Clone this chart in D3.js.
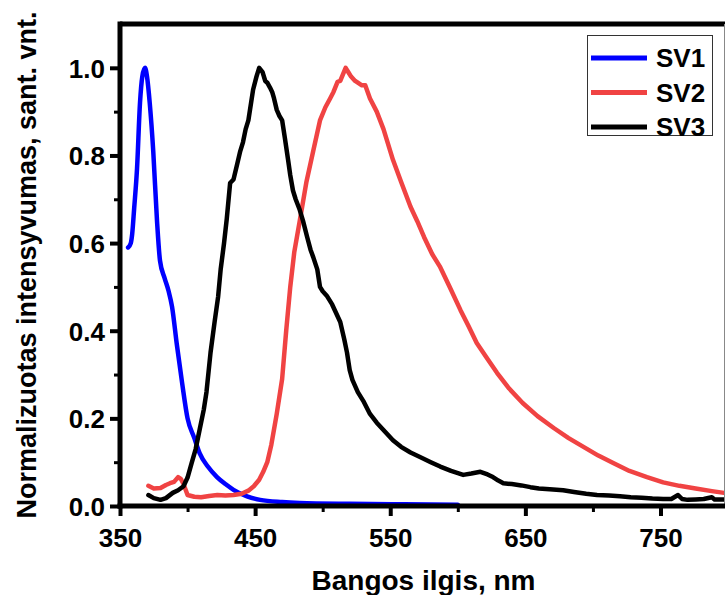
<!DOCTYPE html>
<html>
<head>
<meta charset="utf-8">
<script src="https://cdn.jsdelivr.net/npm/d3@7"></script>
<style>
  body { margin: 0; background: #fff; }
  text { font-family: "Liberation Sans", Arial, sans-serif; font-weight: bold; fill: #000; }
</style>
</head>
<body>
<script>
const w = 725;
const h = 595;

// data
const seriesNames = ["SV1", "SV2", "SV3"];
const seriesColors = ["#0000ff", "#f04343", "#000000"];

const sv1Wl = [356, 358, 359, 360.5, 362.6, 364.8, 366.5, 368.5, 370, 372, 374.6, 377.4, 379.6, 383, 386, 388.5, 392, 396, 400, 405, 409, 415, 421.8, 428, 434, 444, 453.7, 470, 483, 520, 560, 600];
const sv1I = [0.59, 0.6, 0.62, 0.68, 0.77, 0.92, 0.98, 1.0, 0.98, 0.92, 0.81, 0.65, 0.56, 0.52, 0.49, 0.455, 0.37, 0.28, 0.2, 0.155, 0.12, 0.09, 0.066, 0.05, 0.037, 0.022, 0.014, 0.009, 0.007, 0.005, 0.004, 0.003];

const sv2Wl = [371, 375, 380, 384, 387, 390, 393, 395, 397, 400, 405, 410, 416, 422, 428, 434, 440, 445, 449, 453, 456, 459, 462, 466, 470, 473, 476, 479, 483, 488, 493, 498, 502, 505.5, 508, 511, 513, 515, 517, 519, 521, 524, 526, 529, 531.5, 535, 540, 545, 552, 558, 565, 570, 575, 581, 587, 594, 602, 608, 614, 621, 629, 638, 648, 659, 671, 682, 693, 704, 715, 727, 740, 752, 764, 776, 788, 797];
const sv2I = [0.046, 0.04, 0.041, 0.048, 0.052, 0.055, 0.066, 0.062, 0.05, 0.025, 0.021, 0.02, 0.023, 0.025, 0.024, 0.025, 0.028, 0.035, 0.045, 0.06, 0.078, 0.1, 0.14, 0.21, 0.29, 0.4, 0.5, 0.58, 0.65, 0.74, 0.81, 0.88, 0.91, 0.93, 0.945, 0.968, 0.97, 0.985, 1.0, 0.99, 0.98, 0.97, 0.966, 0.96, 0.96, 0.93, 0.9, 0.86, 0.79, 0.74, 0.683, 0.65, 0.614, 0.575, 0.545, 0.5, 0.447, 0.41, 0.372, 0.34, 0.304, 0.268, 0.235, 0.205, 0.178, 0.155, 0.135, 0.115, 0.098, 0.08, 0.066, 0.054, 0.046, 0.04, 0.034, 0.03];

const sv3Wl = [371, 375, 380, 384, 389, 393, 397, 400, 403, 406, 409, 412, 414, 417, 420, 422.6, 424.5, 427, 429, 431.5, 434, 436.7, 439, 441, 443, 445, 447, 448.5, 451, 453, 455.5, 457.5, 459, 461, 462.6, 464, 466, 468, 470, 472, 474.4, 476, 478, 480, 483, 485.5, 488.5, 491, 493, 496, 498, 500, 503, 507, 510, 513, 516, 518, 520, 522, 526, 530, 535, 540, 546, 552, 558, 565, 572, 580, 587, 595, 604, 610, 616.7, 622, 626, 630, 633.7, 640, 647, 653.7, 660, 668, 678, 686, 695, 703, 712, 720, 728, 736, 744, 752, 758, 763, 766, 770, 776, 782, 788, 790, 797];
const sv3I = [0.025, 0.018, 0.014, 0.018, 0.03, 0.036, 0.045, 0.065, 0.098, 0.13, 0.175, 0.22, 0.26, 0.35, 0.42, 0.477, 0.54, 0.6, 0.655, 0.737, 0.745, 0.78, 0.81, 0.83, 0.86, 0.88, 0.92, 0.95, 0.98, 1.0, 0.99, 0.97, 0.966, 0.955, 0.945, 0.93, 0.904, 0.89, 0.88, 0.84, 0.79, 0.755, 0.72, 0.7, 0.676, 0.65, 0.614, 0.585, 0.568, 0.54, 0.5, 0.49, 0.48, 0.46, 0.44, 0.42, 0.38, 0.35, 0.31, 0.288, 0.26, 0.24, 0.21, 0.19, 0.17, 0.15, 0.135, 0.122, 0.112, 0.1, 0.09, 0.08, 0.071, 0.074, 0.078, 0.072, 0.066, 0.058, 0.052, 0.05, 0.047, 0.043, 0.04, 0.038, 0.036, 0.032, 0.028, 0.025, 0.024, 0.022, 0.02, 0.019, 0.017, 0.016, 0.016, 0.025, 0.016, 0.014, 0.015, 0.016, 0.02, 0.015, 0.015];

const xMajor = [350, 450, 550, 650, 750];
const xMinor = [400, 500, 600, 700];
const yMajor = [0, 0.2, 0.4, 0.6, 0.8, 1.0];
const yMinor = [0.1, 0.3, 0.5, 0.7, 0.9];

const plotLeft = 120, plotRight = 724, plotTop = 24, plotBottom = 506;

const xScale = d3.scaleLinear().domain([350, 797]).range([plotLeft, plotRight]);
const yScale = d3.scaleLinear().domain([0, 1.1]).range([plotBottom, plotTop]);

const svg = d3.select("body").append("svg")
  .attr("width", w)
  .attr("height", h);

svg.append("defs").append("clipPath").attr("id", "plot")
  .append("rect")
  .attr("x", plotLeft).attr("y", plotTop)
  .attr("width", plotRight - plotLeft + 2).attr("height", plotBottom - plotTop);

// series
const series = [
  sv1Wl.map((x, i) => [x, sv1I[i]]),
  sv2Wl.map((x, i) => [x, sv2I[i]]),
  sv3Wl.map((x, i) => [x, sv3I[i]])
];

const line = d3.line()
  .x(d => xScale(d[0]))
  .y(d => yScale(d[1]));

const g = svg.append("g").attr("clip-path", "url(#plot)");
series.forEach((s, i) => {
  g.append("path")
    .datum(s)
    .attr("fill", "none")
    .attr("stroke", seriesColors[i])
    .attr("stroke-width", 4.5)
    .attr("stroke-linejoin", "round")
    .attr("stroke-linecap", "round")
    .attr("d", i == 0 ? line.curve(d3.curveMonotoneX)(s) : line.curve(d3.curveLinear)(s));
});

// frame: top and right
svg.append("line")
  .attr("x1", plotLeft).attr("x2", w)
  .attr("y1", plotTop).attr("y2", plotTop)
  .attr("stroke", "#000").attr("stroke-width", 5);
svg.append("line")
  .attr("x1", plotRight + 0.5).attr("x2", plotRight + 0.5)
  .attr("y1", plotTop).attr("y2", plotBottom)
  .attr("stroke", "#888").attr("stroke-width", 1);

// axes
function styleAxis(sel, major) {
  sel.select(".domain").remove();
  sel.selectAll(".tick line").attr("stroke", "#000").attr("stroke-width", major ? 4 : 3);
  sel.selectAll(".tick text")
    .style("font-size", "26px")
    .style("font-family", '"Liberation Sans", Arial, sans-serif')
    .style("font-weight", "bold")
    .attr("fill", "#000");
}

const xAxis = svg.append("g")
  .attr("transform", "translate(0," + plotBottom + ")")
  .call(d3.axisBottom(xScale).tickValues(xMajor).tickSize(10).tickPadding(13).tickFormat(d3.format("d")));
styleAxis(xAxis, true);

const xMinorAxis = svg.append("g")
  .attr("transform", "translate(0," + plotBottom + ")")
  .call(d3.axisBottom(xScale).tickValues(xMinor).tickSize(6).tickFormat(""));
styleAxis(xMinorAxis, false);

const yAxis = svg.append("g")
  .attr("transform", "translate(" + plotLeft + ",0)")
  .call(d3.axisLeft(yScale).tickValues(yMajor).tickSize(10).tickPadding(5).tickFormat(d3.format(".1f")));
styleAxis(yAxis, true);
yAxis.selectAll(".tick text").attr("dy", "0.36em");

const yMinorAxis = svg.append("g")
  .attr("transform", "translate(" + plotLeft + ",0)")
  .call(d3.axisLeft(yScale).tickValues(yMinor).tickSize(6).tickFormat(""));
styleAxis(yMinorAxis, false);

// axis lines
svg.append("line")
  .attr("x1", plotLeft).attr("x2", plotLeft)
  .attr("y1", plotTop - 2.5).attr("y2", plotBottom + 2.5)
  .attr("stroke", "#000").attr("stroke-width", 5);
svg.append("line")
  .attr("x1", plotLeft - 2.5).attr("x2", w)
  .attr("y1", plotBottom).attr("y2", plotBottom)
  .attr("stroke", "#000").attr("stroke-width", 5);

// axis titles
svg.append("text")
  .attr("x", (plotLeft + 727) / 2)
  .attr("y", 590)
  .attr("text-anchor", "middle")
  .style("font-size", "28px")
  .text("Bangos ilgis, nm");

svg.append("text")
  .attr("transform", "translate(36," + ((plotTop + plotBottom) / 2) + ") rotate(-90)")
  .attr("text-anchor", "middle")
  .style("font-size", "27px")
  .text("Normalizuotas intensyvumas, sant. vnt.");

// legend
const legend = svg.append("g").attr("transform", "translate(587,35)");
legend.append("rect")
  .attr("x", 0.5).attr("y", 0.5)
  .attr("width", 125).attr("height", 100)
  .attr("fill", "#fff")
  .attr("stroke", "#333").attr("stroke-width", 1);
seriesNames.forEach((name, i) => {
  const yy = 23 + i * 34.5;
  legend.append("line")
    .attr("x1", 4).attr("x2", 60)
    .attr("y1", yy).attr("y2", yy)
    .attr("stroke", seriesColors[i]).attr("stroke-width", 5);
  legend.append("text")
    .attr("x", 69).attr("y", yy + 9)
    .style("font-size", "26px")
    .text(name);
});
</script>
</body>
</html>
